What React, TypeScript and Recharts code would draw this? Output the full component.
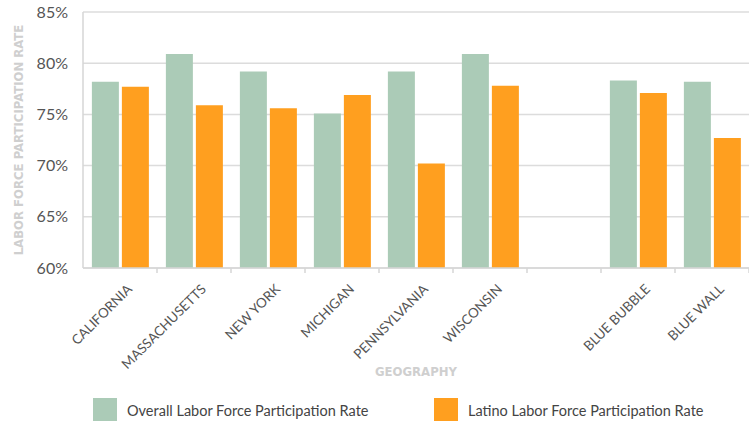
import React from 'react';
import { BarChart, Bar, XAxis, YAxis, CartesianGrid, Label } from 'recharts';

const GEOGRAPHIES = [
  'CALIFORNIA',
  'MASSACHUSETTS',
  'NEW YORK',
  'MICHIGAN',
  'PENNSYLVANIA',
  'WISCONSIN',
  '',
  'BLUE BUBBLE',
  'BLUE WALL',
];
const OVERALL_RATE = [78.2, 80.9, 79.2, 75.1, 79.2, 80.9, null, 78.3, 78.2];
const LATINO_RATE = [77.7, 75.9, 75.6, 76.9, 70.2, 77.8, null, 77.1, 72.7];
const Y_TICKS = [60, 65, 70, 75, 80, 85];

const SERIES = [
  { key: 'overall', name: 'Overall Labor Force Participation Rate', color: '#abcbb7' },
  { key: 'latino', name: 'Latino Labor Force Participation Rate', color: '#ff9f1f' },
];

const data = GEOGRAPHIES.map((geo, i) => ({
  geo,
  overall: OVERALL_RATE[i],
  latino: LATINO_RATE[i],
}));

const FONT = 'Lato, "DejaVu Sans", sans-serif';
const LABEL_FONT = '"DejaVu Sans Condensed", "DejaVu Sans", sans-serif';

function GeoTick({ x, y, payload }: any) {
  const half = payload && payload.offset ? payload.offset : 37;
  const tx = x + 13;
  const ty = y + 22;
  return (
    <g>
      <line x1={x + half} y1={y} x2={x + half} y2={y + 5} stroke="#d6d6d6" strokeWidth={1.5} />
      <text
        x={tx}
        y={ty}
        textAnchor="end"
        fill="#555"
        fontSize={13.5}
        fontFamily={FONT}
        transform={`rotate(-45, ${tx}, ${ty})`}
      >
        {payload.value}
      </text>
    </g>
  );
}

function YTitle({ viewBox }: any) {
  const cx = 18;
  const cy = viewBox ? viewBox.y + viewBox.height / 2 : 140;
  return (
    <text
      x={cx}
      y={cy}
      textAnchor="middle"
      dominantBaseline="central"
      fill="#cfcfcf"
      fontSize={13}
      fontWeight="bold"
      fontFamily={LABEL_FONT}
      transform={`rotate(-90, ${cx}, ${cy})`}
    >
      LABOR FORCE PARTICIPATION RATE
    </text>
  );
}

export default function App() {
  return (
    <div style={{ position: 'relative', width: 749, height: 421, background: '#fff', overflow: 'hidden' }}>
      <style>{'body{margin:0}'}</style>
      <BarChart
        width={749}
        height={421}
        data={data}
        margin={{ top: 12, right: 0, left: 0, bottom: 0 }}
        barCategoryGap="12%"
        barGap={3}
      >
        <CartesianGrid vertical={false} stroke="#dcdcdc" strokeWidth={1.5} />
        <XAxis
          dataKey="geo"
          height={153}
          interval={0}
          tickLine={false}
          tickSize={0}
          tickMargin={0}
          axisLine={{ stroke: '#d6d6d6', strokeWidth: 1.5 }}
          tick={<GeoTick />}
        >
          <Label
            value="GEOGRAPHY"
            position="insideTop"
            offset={99}
            fill="#cfcfcf"
            fontSize={13}
            fontWeight="bold"
            fontFamily={LABEL_FONT}
          />
        </XAxis>
        <YAxis
          width={83}
          domain={[60, 85]}
          ticks={Y_TICKS}
          allowDataOverflow
          tickFormatter={(v: number) => `${v}%`}
          tickLine={false}
          tickMargin={9}
          axisLine={{ stroke: '#d6d6d6', strokeWidth: 1.5 }}
          tick={{ fill: '#555', fontSize: 16, fontFamily: FONT }}
        >
          <Label content={<YTitle />} />
        </YAxis>
        {SERIES.map((s) => (
          <Bar key={s.key} dataKey={s.key} name={s.name} fill={s.color} isAnimationActive={false} />
        ))}
      </BarChart>
      {SERIES.map((s, i) => (
        <div
          key={s.key}
          style={{
            position: 'absolute',
            top: 398,
            left: i === 0 ? 93 : 434,
            display: 'flex',
            alignItems: 'center',
            fontFamily: FONT,
            fontSize: 14.5,
            color: '#444',
          }}
        >
          <span style={{ display: 'inline-block', width: 24, height: 24, background: s.color, marginRight: 10 }} />
          <span>{s.name}</span>
        </div>
      ))}
    </div>
  );
}
